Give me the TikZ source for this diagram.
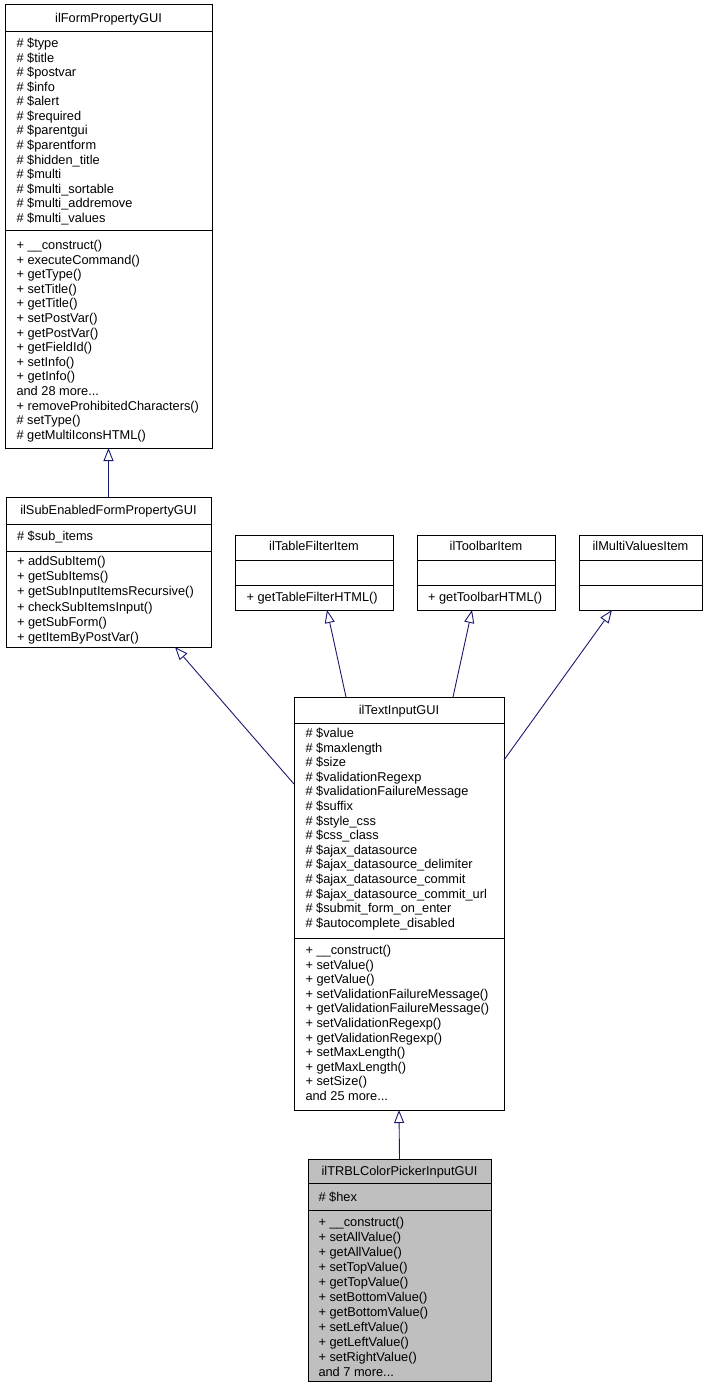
\documentclass[tikz,border=0pt]{standalone}
\usepackage{fontspec}
\setmainfont{Liberation Sans}
\usetikzlibrary{arrows.meta,calc}
\definecolor{edgeblue}{HTML}{191970}
\definecolor{focusgray}{HTML}{BFBFBF}
\newcommand\threedots{...}
\tikzset{
  umlbox/.style={draw=black, line width=1pt, inner sep=0pt, outer sep=0pt, anchor=north west},
  sepline/.style={draw=black, line width=1pt},
  txt/.style={inner sep=0pt, outer sep=0pt, anchor=base west, font=\fontsize{12.8}{14.6}\selectfont},
  ttl/.style={inner sep=0pt, outer sep=0pt, anchor=base, font=\fontsize{12.8}{14.6}\selectfont},
  inh/.style={draw=edgeblue, line width=0.9pt, -{Triangle[open, length=13pt, width=10pt, line width=0.9pt]}},
}
\newcommand\umlmembers[5]{%
  \foreach \t [count=\i] in {#5} {\node[txt] (#1\i) at (#2, {#3+(\i-1)*#4}) {\t};}%
}
\begin{document}
\begin{tikzpicture}[x=1pt,y=-1pt]
\useasboundingbox (0,0) rectangle (707,1388);

% ---- ilFormPropertyGUI
\node[umlbox, minimum width=207pt, minimum height=443pt] (A) at (5,5) {};
\draw[sepline] ($(A.north west)+(0,27)$) -- ($(A.north east)+(0,27)$);
\draw[sepline] ($(A.north west)+(0,226)$) -- ($(A.north east)+(0,226)$);
\node[ttl] (At) at ($(A.north)+(0,17.5)$) {ilFormPropertyGUI};
\umlmembers{Aa}{16.5}{47.5}{14.58}{\# \$type,\# \$title,\# \$postvar,\# \$info,\# \$alert,\# \$required,\# \$parentgui,\# \$parentform,\# \$hidden\_title,\# \$multi,\# \$multi\_sortable,\# \$multi\_addremove,\# \$multi\_values}
\umlmembers{Am}{16.5}{249.5}{14.6}{+ \_\_construct(),+ executeCommand(),+ getType(),+ setTitle(),+ getTitle(),+ setPostVar(),+ getPostVar(),+ getFieldId(),+ setInfo(),+ getInfo(),and 28 more\threedots,+ removeProhibitedCharacters(),\# setType(),\# getMultiIconsHTML()}

% ---- ilSubEnabledFormPropertyGUI
\node[umlbox, minimum width=205pt, minimum height=150pt] (B) at (6,497) {};
\draw[sepline] ($(B.north west)+(0,27)$) -- ($(B.north east)+(0,27)$);
\draw[sepline] ($(B.north west)+(0,54)$) -- ($(B.north east)+(0,54)$);
\node[ttl] (Bt) at ($(B.north)+(0,17.5)$) {ilSubEnabledFormPropertyGUI};
\umlmembers{Ba}{17}{540}{14.6}{\# \$sub\_items}
\umlmembers{Bm}{17}{565.5}{15.2}{+ addSubItem(),+ getSubItems(),+ getSubInputItemsRecursive(),+ checkSubItemsInput(),+ getSubForm(),+ getItemByPostVar()}

% ---- ilTableFilterItem
\node[umlbox, minimum width=158pt, minimum height=75pt] (C) at (235,535) {};
\draw[sepline] ($(C.north west)+(0,25)$) -- ($(C.north east)+(0,25)$);
\draw[sepline] ($(C.north west)+(0,50)$) -- ($(C.north east)+(0,50)$);
\node[ttl] (Ct) at ($(C.north)+(0,15.5)$) {ilTableFilterItem};
\umlmembers{Cm}{246.5}{601.5}{14.6}{+ getTableFilterHTML()}

% ---- ilToolbarItem
\node[umlbox, minimum width=138pt, minimum height=75pt] (T) at (417,535) {};
\draw[sepline] ($(T.north west)+(0,25)$) -- ($(T.north east)+(0,25)$);
\draw[sepline] ($(T.north west)+(0,50)$) -- ($(T.north east)+(0,50)$);
\node[ttl] (Tt) at ($(T.north)+(0,15.5)$) {ilToolbarItem};
\umlmembers{Tm}{428}{601.5}{14.6}{+ getToolbarHTML()}

% ---- ilMultiValuesItem
\node[umlbox, minimum width=123pt, minimum height=75pt] (M) at (579,535) {};
\draw[sepline] ($(M.north west)+(0,25)$) -- ($(M.north east)+(0,25)$);
\draw[sepline] ($(M.north west)+(0,50)$) -- ($(M.north east)+(0,50)$);
\node[ttl] (Mt) at ($(M.north)+(0,15.5)$) {ilMultiValuesItem};

% ---- ilTextInputGUI
\node[umlbox, minimum width=210pt, minimum height=413pt] (D) at (294,697) {};
\draw[sepline] ($(D.north west)+(0,26)$) -- ($(D.north east)+(0,26)$);
\draw[sepline] ($(D.north west)+(0,241)$) -- ($(D.north east)+(0,241)$);
\node[ttl] (Dt) at ($(D.north)+(0,17.5)$) {ilTextInputGUI};
\umlmembers{Da}{305.5}{737.5}{14.6}{\# \$value,\# \$maxlength,\# \$size,\# \$validationRegexp,\# \$validationFailureMessage,\# \$suffix,\# \$style\_css,\# \$css\_class,\# \$ajax\_datasource,\# \$ajax\_datasource\_delimiter,\# \$ajax\_datasource\_commit,\# \$ajax\_datasource\_commit\_url,\# \$submit\_form\_on\_enter,\# \$autocomplete\_disabled}
\umlmembers{Dm}{305.5}{954.5}{14.6}{+ \_\_construct(),+ setValue(),+ getValue(),+ setValidationFailureMessage(),+ getValidationFailureMessage(),+ setValidationRegexp(),+ getValidationRegexp(),+ setMaxLength(),+ getMaxLength(),+ setSize(),and 25 more\threedots}

% ---- ilTRBLColorPickerInputGUI
\node[umlbox, fill=focusgray, minimum width=183pt, minimum height=222pt] (E) at (308,1159) {};
\draw[sepline] ($(E.north west)+(0,24)$) -- ($(E.north east)+(0,24)$);
\draw[sepline] ($(E.north west)+(0,51)$) -- ($(E.north east)+(0,51)$);
\node[ttl] (Et) at ($(E.north)+(0,16.5)$) {ilTRBLColorPickerInputGUI};
\umlmembers{Ea}{318.5}{1201}{14.6}{\# \$hex}
\umlmembers{Em}{318.5}{1226.5}{15}{+ \_\_construct(),+ setAllValue(),+ getAllValue(),+ setTopValue(),+ getTopValue(),+ setBottomValue(),+ getBottomValue(),+ setLeftValue(),+ getLeftValue(),+ setRightValue(),and 7 more\threedots}

% ---- inheritance connectors
\draw[inh] (B.north) -- (A.south);
\draw[inh] ($(D.north west)+(0,87)$) -- ($(B.south west)+(169,0)$);
\draw[inh] ($(D.north west)+(52,0)$) -- ($(C.south west)+(92,0)$);
\draw[inh] ($(D.north west)+(159,0)$) -- ($(T.south west)+(55,0)$);
\draw[inh] ($(D.north east)+(0,63)$) -- ($(M.south west)+(33,0)$);
\draw[inh] (E.north) -- (D.south);
\end{tikzpicture}
\end{document}
